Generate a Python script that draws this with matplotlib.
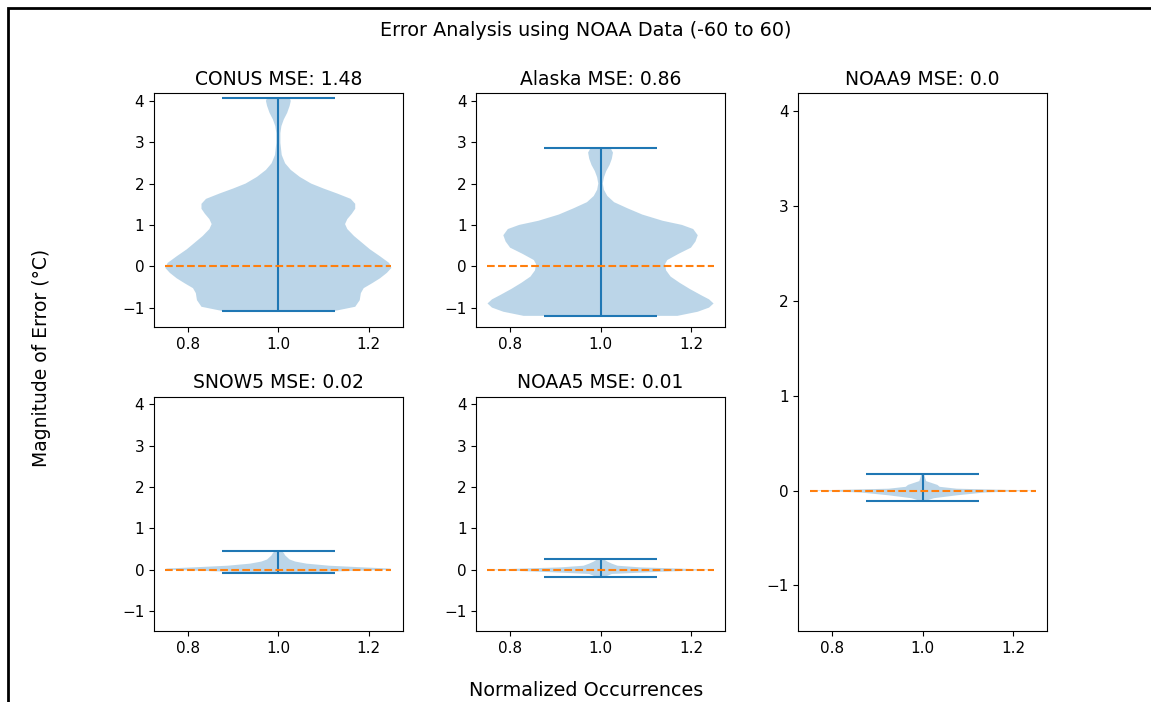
import matplotlib
matplotlib.use("Agg")
import matplotlib.pyplot as plt
from matplotlib.patches import Rectangle

# ==== data: error range and density profile per region ====
names = ["CONUS", "Alaska", "SNOW5", "NOAA5", "NOAA9"]
mse = ["1.48", "0.86", "0.02", "0.01", "0.0"]

conus_y = [-1.08, -0.98, -0.82, -0.65, -0.53, -0.41, -0.29, -0.16, -0.04, 0.08, 0.24,
           0.41, 0.57, 0.73, 0.90, 1.02, 1.14, 1.27, 1.39, 1.51, 1.63, 1.76, 1.88,
           2.00, 2.16, 2.33, 2.49, 2.69, 2.98, 3.22, 3.39, 3.55, 3.71, 3.88, 4.00, 4.07]
conus_d = [0.50, 0.68, 0.72, 0.73, 0.755, 0.83, 0.90, 0.96, 1.00, 0.98, 0.90,
           0.81, 0.74, 0.67, 0.61, 0.59, 0.61, 0.65, 0.68, 0.68, 0.64, 0.52, 0.40,
           0.29, 0.19, 0.11, 0.06, 0.03, 0.018, 0.018, 0.027, 0.048, 0.078, 0.10, 0.11, 0.10]

alaska_y = [-1.20, -1.10, -1.00, -0.90, -0.80, -0.70, -0.55, -0.40, -0.25, -0.10, 0.05,
            0.15, 0.30, 0.45, 0.60, 0.75, 0.90, 1.00, 1.10, 1.25, 1.40, 1.55, 1.70,
            1.85, 2.00, 2.15, 2.30, 2.45, 2.60, 2.75, 2.85]
alaska_d = [0.68, 0.86, 0.96, 1.00, 0.96, 0.89, 0.79, 0.70, 0.62, 0.58, 0.57,
            0.59, 0.69, 0.80, 0.84, 0.86, 0.82, 0.72, 0.55, 0.37, 0.24, 0.12, 0.06,
            0.03, 0.02, 0.03, 0.05, 0.08, 0.10, 0.11, 0.09]

snow5_y = [-0.08, -0.04, 0.0, 0.03, 0.06, 0.10, 0.15, 0.20, 0.25, 0.30, 0.35, 0.40, 0.46]
snow5_d = [0.15, 0.50, 0.95, 1.00, 0.75, 0.45, 0.25, 0.15, 0.10, 0.08, 0.06, 0.05, 0.03]

noaa5_y = [-0.18, -0.10, -0.05, 0.0, 0.03, 0.06, 0.10, 0.15, 0.20, 0.27]
noaa5_d = [0.03, 0.10, 0.50, 1.00, 0.70, 0.35, 0.15, 0.10, 0.06, 0.02]

noaa9_y = [-0.11, -0.08, -0.05, -0.02, 0.0, 0.02, 0.04, 0.06, 0.08, 0.10, 0.14, 0.18]
noaa9_d = [0.02, 0.10, 0.30, 0.55, 1.00, 0.30, 0.15, 0.13, 0.08, 0.03, 0.02, 0.01]

profiles = [(conus_y, conus_d), (alaska_y, alaska_d), (snow5_y, snow5_d),
            (noaa5_y, noaa5_d), (noaa9_y, noaa9_d)]

# ==== figure ====
plt.rcParams["xtick.labelsize"] = 11
plt.rcParams["ytick.labelsize"] = 11

fig = plt.figure(figsize=(11.51, 7.02), dpi=100)
gs = fig.add_gridspec(2, 3, left=0.1338, right=0.9097, top=0.8675, bottom=0.1011,
                      wspace=0.2955, hspace=0.295)
axes = [fig.add_subplot(gs[0, 0]), fig.add_subplot(gs[0, 1]),
        fig.add_subplot(gs[1, 0]), fig.add_subplot(gs[1, 1]),
        fig.add_subplot(gs[:, 2])]

for ax, name, m, (yy, dd) in zip(axes, names, mse, profiles):
    stats = [{"coords": yy, "vals": dd, "mean": 0.0, "median": 0.0,
              "min": yy[0], "max": yy[-1]}]
    ax.violin(stats, positions=[1], widths=0.5, showextrema=True)
    ax.hlines(0, 0.75, 1.25, colors="C1", linestyles="--", linewidth=1.5)
    ax.set_title(f"{name} MSE: {m}", fontsize=13.5)
    ax.set_xlim(0.725, 1.275)
    ax.set_ylim(-1.48, 4.19)
    ax.set_xticks([0.8, 1.0, 1.2])
    ax.set_yticks([-1, 0, 1, 2, 3, 4])

fig.suptitle("Error Analysis using NOAA Data (-60 to 60)", x=0.509, y=0.97, fontsize=13.8)
fig.text(0.036, 0.49, "Magnitude of Error (°C)", rotation=90, ha="center", va="center",
         fontsize=13.5)
fig.text(0.509, 0.017, "Normalized Occurrences", ha="center", va="center", fontsize=13.8)

# screenshot frame
fig.patches.append(Rectangle((8 / 1151, -0.05), 1.2, 1.05 - 8 / 702,
                             transform=fig.transFigure, fill=False,
                             edgecolor="black", linewidth=2))

fig.savefig("out.png", dpi=100)
